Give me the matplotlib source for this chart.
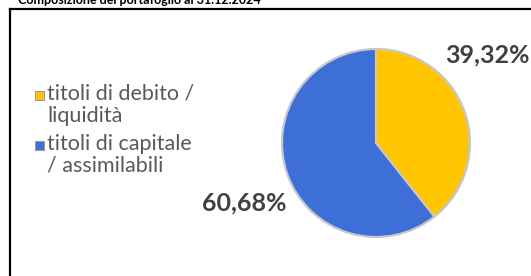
import matplotlib.pyplot as plt
from matplotlib.lines import Line2D
from matplotlib.patches import Rectangle

# dati del grafico
title = "Composizione del portafoglio al 31.12.2024"
labels = ["titoli di debito /\nliquidità", "titoli di capitale\n/ assimilabili"]
values = [39.32, 60.68]
colors = ["#FFC600", "#3D6FD6"]

plt.rcParams['font.family'] = ['Lato', 'DejaVu Sans']

fig = plt.figure(figsize=(5.31, 2.76), dpi=100)
W, H = 531, 276

# cornice (solo lato sinistro e superiore visibili)
fig.add_artist(Line2D([9.5 / W, 1], [1 - 8.5 / H] * 2, transform=fig.transFigure,
                      color="black", lw=1.6))
fig.add_artist(Line2D([9.5 / W] * 2, [0, 1 - 8.5 / H], transform=fig.transFigure,
                      color="black", lw=1.6))

# titolo tagliato in alto
fig.text(18 / W, 1 - 4 / H, title, fontsize=9, fontweight="bold", va="baseline",
         ha="left", color="black")

# torta
ax = fig.add_axes([282 / W, 39 / H, 188 / W, 188 / H])
wedges, _ = ax.pie(values, colors=colors, startangle=90, counterclock=False,
                   radius=1.0,
                   wedgeprops=dict(edgecolor="#c8c8c8", linewidth=1.6))
ax.set_xlim(-1.0, 1.0)
ax.set_ylim(-1.0, 1.0)
ax.set_aspect("equal")
ax.axis("off")

# etichette percentuali
pct_pos = [(1.18, 0.94), (-1.40, -0.64)]
for v, (x, y) in zip(values, pct_pos):
    ax.text(x, y, f"{v:.2f}%".replace(".", ","), fontsize=18, fontweight="bold",
            color="#404040", ha="center", va="center")

# legenda (disegnata a mano: quadratino accanto alla prima riga)
leg_top = [84, 134]  # bordo superiore del testo, px dall'alto
for lab, col, yt in zip(labels, colors, leg_top):
    fig.add_artist(Rectangle((35 / W, 1 - (yt + 16) / H), 9 / W, 9 / H,
                             transform=fig.transFigure, facecolor=col,
                             edgecolor="#9a9a9a", lw=0.8))
    fig.text(47 / W, 1 - yt / H, lab, fontsize=15.5, color="#595959",
             va="top", ha="left", linespacing=1.12)

fig.savefig("out.png", dpi=100)
